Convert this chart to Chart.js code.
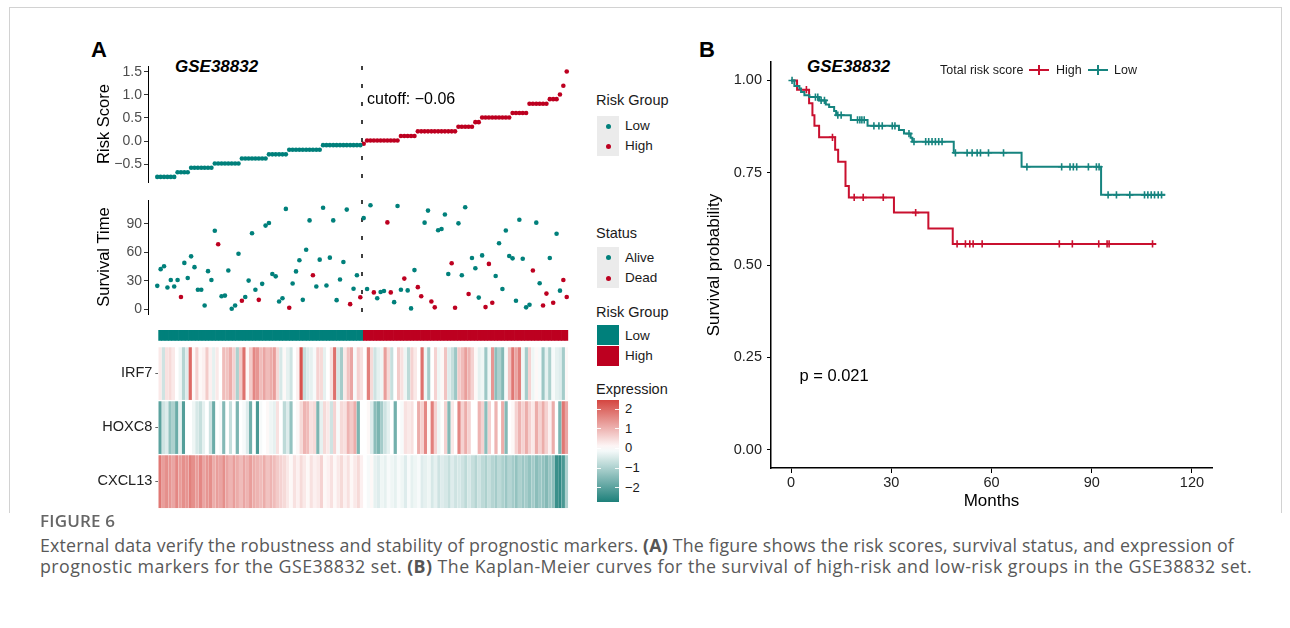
<!DOCTYPE html>
<html>
<head>
<meta charset="utf-8">
<title>Figure 6</title>
<script src="https://cdn.jsdelivr.net/npm/chart.js@4.4.1/dist/chart.umd.min.js"></script>
<style>
  html, body { margin: 0; padding: 0; background: #fff; }
  body { width: 1290px; height: 628px; position: relative; overflow: hidden;
         font-family: "Liberation Sans", Arial, sans-serif; color: #1a1a1a; }
  .abs { position: absolute; }
  .frame { position: absolute; left: 9px; top: 7px; width: 1271px; height: 505px;
           border: 1px solid #d2d2d2; border-bottom: none; }
  .tag { position: absolute; font-size: 22px; font-weight: bold; line-height: 24px; color: #000; }
  .ttl { position: absolute; font-size: 17px; font-weight: bold; font-style: italic; line-height: 20px; color: #000; }
  .lg-title { position: absolute; font-size: 14.5px; line-height: 18px; color: #1a1a1a; }
  .lg-text { position: absolute; font-size: 13.5px; line-height: 18px; color: #1a1a1a; }
  .keybox { position: absolute; background: #ebebeb; width: 22px; }
  .dot { position: absolute; width: 5px; height: 5px; border-radius: 50%; }
  .sw { position: absolute; width: 22px; height: 20px; }
  .km-lg { position: absolute; font-size: 12.5px; line-height: 16px; color: #1a1a1a; }
  .glyph { position: absolute; width: 22px; height: 10px; }
  .glyph i { position: absolute; display: block; }
  .cap-h { position: absolute; font-family: "Open Sans", sans-serif; font-size: 17px; font-weight: 600;
           color: #666; line-height: 20px; letter-spacing: 0.2px; }
  .cap { position: absolute; font-family: "Open Sans", sans-serif; font-size: 17.8px; color: #595959;
         line-height: 21px; white-space: nowrap; }
  .cap span { display: inline-block; }
  .cap b { font-weight: 700; color: #555; }
</style>
</head>
<body>
<div class="frame"></div>

<div class="tag" style="left:91px;top:38px">A</div>
<div class="tag" style="left:699px;top:38px">B</div>
<div class="ttl" style="left:175px;top:57px">GSE38832</div>
<div class="ttl" style="left:807px;top:57px">GSE38832</div>

<div class="abs" style="left:60px;top:58px;width:520px;height:132px"><canvas id="riskChart"></canvas></div>
<div class="abs" style="left:60px;top:192px;width:520px;height:128px"><canvas id="timeChart"></canvas></div>
<div class="abs" style="left:60px;top:328px;width:520px;height:16px"><canvas id="groupChart"></canvas></div>
<div class="abs" style="left:60px;top:344px;width:520px;height:168px"><canvas id="heatChart"></canvas></div>
<div class="abs" style="left:690px;top:40px;width:540px;height:480px"><canvas id="kmChart"></canvas></div>

<div id="legendA"></div>
<div id="legendB"></div>

<div class="cap-h" style="left:40px;top:511px">FIGURE 6</div>
<div class="cap" style="left:40px;top:535px"><span data-w="1194">External data verify the robustness and stability of prognostic markers. <b>(A)</b> The figure shows the risk scores, survival status, and expression of</span><br><span data-w="1212">prognostic markers for the GSE38832 set. <b>(B)</b> The Kaplan-Meier curves for the survival of high-risk and low-risk groups in the GSE38832 set.</span></div>

<script>
// ---- panel A data (samples ordered by risk score) ----
const cutoff = -0.06;
const riskScore = [
  -0.78, -0.78, -0.78, -0.78, -0.78, -0.78,
  -0.68, -0.68, -0.68, -0.68,
  -0.58, -0.58, -0.58, -0.58, -0.58, -0.58, -0.58,
  -0.49, -0.49, -0.49, -0.49, -0.49, -0.49, -0.49, -0.49,
  -0.38, -0.38, -0.38, -0.38, -0.38, -0.38, -0.38, -0.38,
  -0.29, -0.29, -0.29, -0.29, -0.29, -0.29,
  -0.19, -0.19, -0.19, -0.19, -0.19, -0.19, -0.19, -0.19, -0.19, -0.19,
  -0.09, -0.09, -0.09, -0.09, -0.09, -0.09, -0.09, -0.09, -0.09, -0.09, -0.09, -0.09,
  -0.06,
  0.01, 0.01, 0.01, 0.01, 0.01, 0.01, 0.01, 0.01, 0.01, 0.01,
  0.11, 0.11, 0.11, 0.11, 0.11,
  0.21, 0.21, 0.21, 0.21, 0.21, 0.21, 0.21, 0.21, 0.21, 0.21, 0.21, 0.21,
  0.31, 0.31, 0.31, 0.31, 0.31,
  0.41, 0.41,
  0.51, 0.51, 0.51, 0.51, 0.51, 0.51, 0.51, 0.51, 0.51,
  0.61, 0.61, 0.61, 0.61, 0.61,
  0.81, 0.81, 0.81, 0.81, 0.81, 0.81,
  0.91, 0.91, 0.91,
  1.01, 1.20, 1.51
];
const survTime = [
  24.8, 42.4, 45.5, 23.1, 31.0, 24.1, 31.0, 13.1, 49.0, 33.1,
  55.9, 44.5, 20.7, 20.7, 4.1, 40.3, 31.0, 82.8, 68.6, 13.8,
  14.5, 41.0, 0.7, 4.1, 58.6, 9.0, 13.1, 30.3, 80.3, 20.7,
  10.0, 26.9, 88.3, 91.0, 37.2, 34.8, 8.3, 11.7, 105.9, 1.7,
  27.2, 40.0, 51.7, 10.0, 62.8, 93.8, 35.9, 24.1, 52.4, 107.2,
  25.2, 54.5, 93.8, 9.7, 31.4, 50.0, 105.2, 5.5, 21.7, 35.9,
  12.8, 96.2, 21.4, 109.7, 17.9, 11.7, 18.3, 19.3, 91.7, 17.9,
  7.6, 109.0, 20.7, 32.4, 20.0, 1.0, 41.4, 23.4, 13.8, 91.4,
  104.1, 8.3, 2.1, 83.4, 84.8, 100.0, 37.2, 48.6, 1.7, 90.7,
  35.9, 107.6, 16.2, 54.1, 43.4, 12.4, 56.9, 2.4, 47.9, 6.9,
  35.2, 69.7, 21.4, 83.1, 56.2, 53.8, 9.0, 94.5, 53.4, 2.1,
  4.8, 41.0, 91.4, 27.6, 4.1, 16.6, 54.1, 6.9, 79.7, 19.7,
  31.0, 13.1
];
// 1 = dead, 0 = alive
const survStatus = [
  0, 0, 0, 0, 0, 0, 0, 1, 0, 0,
  0, 0, 0, 0, 0, 0, 0, 0, 1, 0,
  0, 0, 0, 0, 0, 1, 0, 0, 0, 0,
  1, 0, 0, 0, 0, 0, 0, 0, 0, 1,
  0, 0, 0, 0, 0, 0, 1, 0, 0, 0,
  0, 0, 0, 0, 0, 0, 0, 1, 0, 0,
  1, 0, 0, 0, 1, 0, 0, 0, 1, 1,
  0, 0, 0, 1, 0, 0, 0, 1, 1, 0,
  0, 1, 1, 0, 0, 0, 0, 1, 1, 0,
  0, 0, 1, 0, 0, 0, 0, 1, 1, 1,
  0, 0, 0, 0, 0, 0, 0, 0, 0, 0,
  0, 1, 0, 0, 1, 1, 0, 1, 0, 0,
  1, 1
];
const genes = ["IRF7", "HOXC8", "CXCL13"];
const irf7 = [
  0.3, -0.6, 0.4, 0.5, 0.3, 0, -0.2, -0.9, -0.4, 2.0,
  0.1, 0.6, 0.1, 0.2, 0.7, 0.2, -0.3, 0.3, 0, 0.9,
  0.8, 1.1, 0.6, -1.0, 0.7, 1.9, 0.1, 0.7, 1.6, 1.4,
  0.9, 1.2, 0.9, 1.1, 1.3, 0.5, -0.5, 0.1, -0.3, -0.6,
  0, 0.2, 2.3, -0.7, -0.4, -0.3, -0.1, 0.6, 0.5, -0.3,
  0, 0.4, 1.9, -0.5, -1.1, 0.3, 0.8, 1.2, -0.1, 0.6,
  0.4, 0, 1.7, 0.5, -0.6, -0.3, -0.2, 1.3, 0.5, -0.7,
  0, 0.7, 0.4, -0.2, -0.8, 0.6, 0.3, 0, 1.9, -0.2,
  -1.1, 0, 0.6, -0.2, 0.1, 0.8, -0.4, -0.7, -1.2, 0.7,
  0.9, 1.3, 1.0, 0.6, 0.1, -0.3, -0.2, -1.2, -0.2, 1.4,
  -1.4, -1.0, -1.5, -0.1, 0.8, 1.8, 1.2, 1.7, -0.2, -1.1,
  0.6, -0.2, 0.1, -0.1, -1.2, -0.3, -1.0, -0.1, -0.3, -0.4,
  -1.1, 0.1
];
const hoxc8 = [
  -2.0, -0.6, -0.4, -1.3, -1.0, -1.8, -0.3, -2.1, 0, 0,
  -0.2, -0.5, -0.7, -0.3, 0, -0.6, -1.8, 0, -0.1, -1.5,
  0, -0.7, 0, -1.6, 0, -0.1, -0.4, -1.7, 0, -2.2,
  -0.1, 0, 0.1, -0.2, -0.3, 0.4, 0, -0.8, -0.4, -1.3,
  0, 0.1, 0.5, 1.0, 0.9, 0.4, 0.5, -1.6, -0.3, 0.5,
  0.3, -0.6, 0.6, -0.1, 0.5, 0.4, 1.0, 0.7, 1.1, -1.6,
  0, 0, 0.1, -0.4, -1.4, -1.6, -1.1, -0.6, -0.3, 0,
  -1.7, 0, -0.1, 0.4, 0.3, 0.4, 0, 1.1, 0.6, 1.6,
  0.1, 1.7, 0.6, -0.2, 0, 0.6, -1.5, 0.3, 0, 1.6,
  0.6, 1.1, 0.6, 0, 0, 1.0, 0.6, -1.4, 0.6, 0,
  1.0, 0, 1.1, -1.5, 0, 0.1, 0.6, 1.0, 0.6, 1.1,
  0.6, 0.3, 1.1, 0.6, 1.1, 0.6, 0.2, 1.1, 0, -1.6,
  1.8, 1.2
];
const cxcl13 = [
  1.8, 1.3, 1.5, 1.4, 1.2, 1.6, 1.3, 1.5, 1.4, 1.7,
  1.5, 1.3, 1.6, 1.2, 1.4, 1.5, 1.1, 1.3, 1.2, 1.5,
  1.2, 1.0, 1.3, 1.1, 0.9, 1.2, 1.0, 1.3, 1.1, 1.0,
  0.9, 1.1, 0.8, 1.0, 0.9, 0.7, 0.6, 0.5, 0.3, 0.1,
  0.4, 0.2, 0.5, 0.3, 0.1, 0.4, 0.2, 0.3, 0.6, 0.1,
  0.2, 0.4, 0.1, 0.3, 0.5, 0.2, 0.4, 0.1, 0.3, 0.5,
  0.2, 0, -0.1, 0.1, -0.3, -0.4, -0.2, -0.3, -0.1, -0.2,
  -0.3, -0.1, -0.2, -0.4, -0.1, -0.3, -0.2, -0.1, -0.4, -0.3,
  -0.2, -0.5, -0.3, -0.6, -0.4, -0.5, -0.7, -0.4, -0.6, -0.5,
  -0.6, -0.8, -0.5, -0.7, -0.9, -0.6, -0.8, -1.0, -0.7, -0.9,
  -1.1, -0.8, -1.0, -1.2, -0.9, -1.1, -1.3, -1.0, -1.2, -1.1,
  -1.3, -1.1, -1.4, -1.2, -1.3, -1.5, -1.2, -1.4, -2.4, -2.5,
  -2.2, -1.0
];
const riskTicks = [-0.5, 0, 0.5, 1, 1.5];
const timeTicks = [0, 30, 60, 90];
const exprTicks = [2, 1, 0, -1, -2];

// ---- panel B data (Kaplan-Meier steps, months) ----
const kmHighTime = [0, 1.8, 5.4, 6.4, 7.0, 8.4, 13.2, 14.1, 16.3, 17.3, 30.8, 41.1, 48.4, 109.3];
const kmHighSurv = [1.0, 0.975, 0.938, 0.906, 0.877, 0.846, 0.812, 0.780, 0.714, 0.683, 0.642, 0.599, 0.557, 0.557];
const kmHighCensor = [4.6, 12.4, 18.9, 21.6, 27.6, 37.3, 49.7, 52.2, 53.5, 54.5, 57.2, 80.3, 84.2, 92.1, 94.6, 95.2, 108.2];
const kmLowTime = [0, 1.0, 2.5, 3.0, 4.0, 5.5, 8.4, 10.4, 11.4, 12.9, 13.5, 17.9, 22.9, 32.3, 33.8, 35.8, 36.3, 48.7, 69.0, 92.8, 112.0];
const kmLowSurv = [1.0, 0.985, 0.978, 0.969, 0.960, 0.955, 0.946, 0.935, 0.928, 0.917, 0.906, 0.893, 0.877, 0.866, 0.856, 0.845, 0.834, 0.804, 0.766, 0.690, 0.690];
const kmLowCensor = [0.3, 7.3, 8.0, 9.0, 10.0, 14.0, 15.0, 19.9, 20.6, 21.2, 21.9, 24.8, 26.3, 27.3, 30.3, 31.1, 35.3,
  36.8, 40.3, 41.2, 42.2, 43.2, 44.2, 45.2, 49.2, 52.7, 54.2, 55.7, 56.7, 59.1, 63.6, 70.6, 81.0, 83.5, 84.5, 85.5,
  89.0, 91.4, 92.2, 94.9, 97.4, 101.4, 105.8, 106.8, 107.8, 108.8, 109.9, 110.9];
const kmMonthTicks = [0, 30, 60, 90, 120];
const kmSurvTicks = [0, 0.25, 0.5, 0.75, 1];
const pValue = "0.021";

// ---- colours ----
const lowColor = "#00807b";
const highColor = "#bd0020";
const kmHighColor = "#c9102f";
const kmLowColor = "#16847f";
const heatHigh = [208, 50, 44], heatMid = [255, 255, 255], heatLow = [30, 128, 122];
const heatLimit = 2.74;

Chart.defaults.font.family = '"Liberation Sans", Arial, sans-serif';
Chart.defaults.animation = false;
Chart.defaults.plugins.legend.display = false;
Chart.defaults.plugins.tooltip.enabled = false;

const riskGroup = riskScore.map(v => (v >= cutoff ? "High" : "Low"));
const nLow = riskGroup.filter(g => g === "Low").length;
const sampleIds = riskScore.map((_, i) => "S" + (i + 1));

function fmtNum(v, d) {
  return (v < 0 ? "\u2212" : "") + Math.abs(v).toFixed(d);
}

function heatColor(v) {
  const t = Math.max(-1, Math.min(1, v / heatLimit));
  const end = t >= 0 ? heatHigh : heatLow;
  const a = Math.abs(t);
  const c = heatMid.map((m, k) => Math.round(m + (end[k] - m) * a));
  return "rgb(" + c.join(",") + ")";
}

function survAt(times, surv, t) {
  let s = surv[0];
  for (let i = 0; i < times.length; i++) {
    if (times[i] <= t) s = surv[i];
  }
  return s;
}

// fixed axis width and no extra label padding, so the plot areas line up
function fixWidth(w) {
  return s => { s.width = w; s.paddingTop = 0; s.paddingBottom = 0; };
}

// x axis shared by the two scatter panels (sample rank)
function sampleAxis() {
  return { type: "linear", min: -2.74, max: riskScore.length + 1.74, display: false };
}

function leftAxis(min, max, ticks, title, digits) {
  return {
    min: min,
    max: max,
    afterFit: fixWidth(88),
    afterBuildTicks: s => { s.ticks = ticks.map(v => ({ value: v })); },
    ticks: { callback: v => fmtNum(v, digits), color: "#4d4d4d", font: { size: 14 }, padding: 2 },
    grid: { drawOnChartArea: false, tickLength: 4, tickColor: "#333" },
    border: { color: "#000", width: 1 },
    title: { display: true, text: title, color: "#000", font: { size: 16.5 }, padding: { top: 35 } }
  };
}

// dashed cutoff line (and its label) between the last low and first high sample
const cutoffLine = {
  id: "cutoffLine",
  beforeDatasetsDraw(chart) {
    const { ctx, chartArea, scales } = chart;
    const x = scales.x.getPixelForValue(nLow - 0.5);
    ctx.save();
    ctx.strokeStyle = "#000";
    ctx.lineWidth = 1.5;
    ctx.setLineDash([4, 14]);
    ctx.beginPath();
    ctx.moveTo(x, chartArea.top);
    ctx.lineTo(x, chartArea.bottom);
    ctx.stroke();
    ctx.restore();
  },
  afterDatasetsDraw(chart, args, opts) {
    if (!opts.label) return;
    const { ctx, scales } = chart;
    const x = scales.x.getPixelForValue(nLow - 0.5);
    ctx.save();
    ctx.fillStyle = "#000";
    ctx.font = '16px "Liberation Sans", Arial, sans-serif';
    ctx.textBaseline = "middle";
    ctx.fillText(opts.label, x + 5, scales.y.getPixelForValue(0.89));
    ctx.restore();
  }
};

// Risk score panel
new Chart(document.getElementById("riskChart"), {
  type: "scatter",
  data: {
    datasets: ["Low", "High"].map(g => ({
      label: g,
      data: riskScore.map((v, i) => ({ x: i, y: v })).filter((p, i) => riskGroup[i] === g),
      backgroundColor: g === "Low" ? lowColor : highColor,
      pointRadius: 2.3,
      borderWidth: 0
    }))
  },
  options: {
    responsive: true,
    maintainAspectRatio: false,
    layout: { padding: { left: 0, right: 3, top: 8, bottom: 8 } },
    scales: { x: sampleAxis(), y: leftAxis(-0.891, 1.63, riskTicks, "Risk Score", 1) },
    plugins: { cutoffLine: { label: "cutoff: " + fmtNum(cutoff, 2) } }
  },
  plugins: [cutoffLine]
});

// Survival time panel
new Chart(document.getElementById("timeChart"), {
  type: "scatter",
  data: {
    datasets: [0, 1].map(st => ({
      label: st ? "Dead" : "Alive",
      data: survTime.map((v, i) => ({ x: i, y: v })).filter((p, i) => survStatus[i] === st),
      backgroundColor: st ? highColor : lowColor,
      pointRadius: 2.3,
      borderWidth: 0
    }))
  },
  options: {
    responsive: true,
    maintainAspectRatio: false,
    layout: { padding: { left: 0, right: 3, top: 8, bottom: 6 } },
    scales: { x: sampleAxis(), y: leftAxis(-4.9, 115.3, timeTicks, "Survival Time", 0) },
    plugins: { cutoffLine: {} }
  },
  plugins: [cutoffLine]
});

// Risk group annotation bar
new Chart(document.getElementById("groupChart"), {
  type: "bar",
  data: {
    labels: sampleIds,
    datasets: [{
      data: riskGroup.map(() => 1),
      backgroundColor: riskGroup.map(g => (g === "Low" ? lowColor : highColor)),
      barPercentage: 1,
      categoryPercentage: 1
    }]
  },
  options: {
    responsive: true,
    maintainAspectRatio: false,
    layout: { padding: { left: 98.3, right: 11.7, top: 2, bottom: 3.3 } },
    scales: { x: { display: false }, y: { display: false, min: 0, max: 1 } }
  }
});

// Expression heatmap (one stacked cell per gene and sample)
const exprByGene = { IRF7: irf7, HOXC8: hoxc8, CXCL13: cxcl13 };
new Chart(document.getElementById("heatChart"), {
  type: "bar",
  data: {
    labels: sampleIds,
    datasets: genes.slice().reverse().map(g => ({
      label: g,
      data: exprByGene[g].map(() => 1),
      backgroundColor: exprByGene[g].map(heatColor),
      borderColor: "#fff",
      borderWidth: { top: 1.5, bottom: 0, left: 0, right: 0 },
      borderSkipped: false,
      barPercentage: 1,
      categoryPercentage: 1
    }))
  },
  options: {
    responsive: true,
    maintainAspectRatio: false,
    layout: { padding: { left: 0, right: 11.7, top: 2, bottom: 3.7 } },
    scales: {
      x: { stacked: true, display: false },
      y: {
        stacked: true,
        min: 0,
        max: genes.length,
        afterFit: fixWidth(98.3),
        afterBuildTicks: s => { s.ticks = genes.map((g, k) => ({ value: genes.length - k - 0.5 })); },
        ticks: { callback: v => genes[genes.length - 0.5 - v], color: "#222", font: { size: 14.5 }, padding: 3 },
        grid: { drawOnChartArea: false, tickLength: 3, tickColor: "#666" },
        border: { display: false }
      }
    }
  }
});

// p-value label for the KM plot
const pLabel = {
  id: "pLabel",
  afterDatasetsDraw(chart) {
    const { ctx, scales } = chart;
    ctx.save();
    ctx.fillStyle = "#000";
    ctx.font = '16.5px "Liberation Sans", Arial, sans-serif';
    ctx.textBaseline = "middle";
    ctx.fillText("p = " + pValue, scales.x.getPixelForValue(2.5), scales.y.getPixelForValue(0.198));
    ctx.restore();
  }
};

function kmLine(times, surv, color, label) {
  return {
    label: label,
    data: times.map((t, i) => ({ x: t, y: surv[i] })),
    stepped: true,
    borderColor: color,
    borderWidth: 2,
    pointRadius: 0,
    fill: false
  };
}

function kmCensor(times, surv, marks, color) {
  return {
    type: "scatter",
    data: marks.map(t => ({ x: t, y: survAt(times, surv, t) })),
    pointStyle: "cross",
    pointRadius: 3.6,
    borderColor: color,
    borderWidth: 1.6
  };
}

new Chart(document.getElementById("kmChart"), {
  type: "line",
  data: {
    datasets: [
      kmCensor(kmLowTime, kmLowSurv, kmLowCensor, kmLowColor),
      kmCensor(kmHighTime, kmHighSurv, kmHighCensor, kmHighColor),
      kmLine(kmLowTime, kmLowSurv, kmLowColor, "Low"),
      kmLine(kmHighTime, kmHighSurv, kmHighColor, "High")
    ]
  },
  options: {
    responsive: true,
    maintainAspectRatio: false,
    layout: { padding: { left: 0, right: 18, top: 22, bottom: 0 } },
    scales: {
      x: {
        type: "linear",
        min: -6,
        max: 126,
        afterFit: s => { s.height = 52; },
        afterBuildTicks: s => { s.ticks = kmMonthTicks.map(v => ({ value: v })); },
        ticks: { callback: v => String(v), color: "#222", font: { size: 14.5 }, padding: 1, maxRotation: 0 },
        grid: { drawOnChartArea: false, tickLength: 5, tickColor: "#000" },
        border: { color: "#000", width: 1.5 },
        title: { display: true, text: "Months", color: "#000", font: { size: 17 }, padding: { bottom: 8 } }
      },
      y: {
        min: -0.05,
        max: 1.05,
        afterFit: fixWidth(81),
        afterBuildTicks: s => { s.ticks = kmSurvTicks.map(v => ({ value: v })); },
        ticks: { callback: v => v.toFixed(2), color: "#222", font: { size: 14.5 }, padding: 5 },
        grid: { drawOnChartArea: false, tickLength: 4, tickColor: "#000" },
        border: { color: "#000", width: 1.5 },
        title: { display: true, text: "Survival probability", color: "#000", font: { size: 17 }, padding: { top: 14 } }
      }
    }
  },
  plugins: [pLabel]
});

// ---- legends (HTML) ----
function el(cls, left, top, html, extra) {
  const d = document.createElement("div");
  d.className = cls;
  d.style.left = left + "px";
  d.style.top = top + "px";
  if (html !== undefined) d.innerHTML = html;
  if (extra) Object.assign(d.style, extra);
  return d;
}

const legA = document.getElementById("legendA");
// Risk group (points)
legA.appendChild(el("lg-title", 596, 91, "Risk Group"));
legA.appendChild(el("keybox", 597, 116, undefined, { height: "40px" }));
legA.appendChild(el("dot", 605.5, 123.5, undefined, { background: lowColor }));
legA.appendChild(el("dot", 605.5, 143.5, undefined, { background: highColor }));
legA.appendChild(el("lg-text", 625, 117, "Low"));
legA.appendChild(el("lg-text", 625, 137, "High"));
// Status
legA.appendChild(el("lg-title", 596, 224, "Status"));
legA.appendChild(el("keybox", 597, 247, undefined, { height: "41px" }));
legA.appendChild(el("dot", 605.5, 255, undefined, { background: lowColor }));
legA.appendChild(el("dot", 605.5, 275.5, undefined, { background: highColor }));
legA.appendChild(el("lg-text", 625, 248.5, "Alive"));
legA.appendChild(el("lg-text", 625, 269, "Dead"));
// Risk group (annotation)
legA.appendChild(el("lg-title", 596, 302.5, "Risk Group"));
legA.appendChild(el("sw", 597, 325, undefined, { background: lowColor }));
legA.appendChild(el("sw", 597, 345.5, undefined, { background: highColor }));
legA.appendChild(el("lg-text", 625, 327, "Low"));
legA.appendChild(el("lg-text", 625, 347, "High"));
// Expression colour bar
legA.appendChild(el("lg-title", 596, 379.5, "Expression"));
const barTop = 400, barH = 102, barMax = 2.48, barMin = -2.74;
const stops = [];
for (let k = 0; k <= 20; k++) {
  const v = barMax - (barMax - barMin) * k / 20;
  stops.push(heatColor(v) + " " + (k * 5) + "%");
}
legA.appendChild(el("abs", 597, barTop, undefined, {
  width: "22px", height: barH + "px", background: "linear-gradient(to bottom," + stops.join(",") + ")"
}));
exprTicks.forEach(v => {
  const y = barTop + (barMax - v) / (barMax - barMin) * barH;
  legA.appendChild(el("abs", 597, y - 0.5, undefined, { width: "4px", height: "1px", background: "rgba(255,255,255,0.9)" }));
  legA.appendChild(el("abs", 615, y - 0.5, undefined, { width: "4px", height: "1px", background: "rgba(255,255,255,0.9)" }));
  legA.appendChild(el("lg-text", 625, y - 9, fmtNum(v, 0), { fontSize: "13px" }));
});

const legB = document.getElementById("legendB");
legB.appendChild(el("km-lg", 940, 62, "Total risk score"));
[[1029, kmHighColor, "High", 1056], [1088, kmLowColor, "Low", 1114]].forEach(([gx, col, txt, tx]) => {
  const g = el("glyph", gx, 65);
  g.innerHTML = '<i style="left:0;top:4px;width:20px;height:2px;background:' + col + '"></i>' +
                '<i style="left:9px;top:0;width:2px;height:10px;background:' + col + '"></i>';
  legB.appendChild(g);
  legB.appendChild(el("km-lg", tx, 62, txt));
});

// stretch each caption line to the width it has in the printed figure
document.querySelectorAll(".cap span").forEach(sp => {
  const target = Number(sp.dataset.w);
  const w = sp.getBoundingClientRect().width;
  const n = sp.textContent.length;
  sp.style.letterSpacing = ((target - w) / n).toFixed(3) + "px";
});
</script>
</body>
</html>
